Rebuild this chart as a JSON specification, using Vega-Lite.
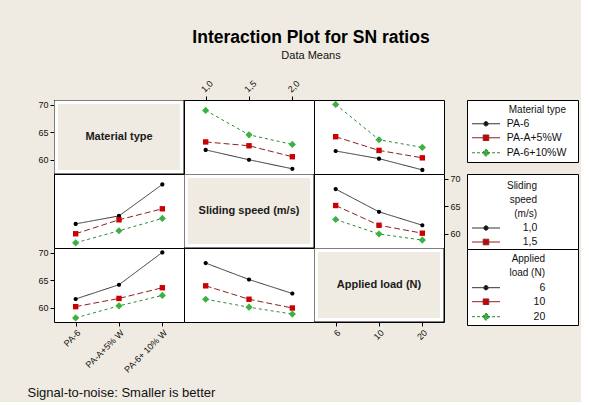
{
 "$schema": "https://vega.github.io/schema/vega-lite/v6.json",
 "usermeta": {"embedOptions": {"actions": false}},
 "background": "#efebe2",
 "padding": {"left": 27, "top": 29, "right": 2, "bottom": 2},
 "datasets": {
  "matSpeed": [
   {"material": "PA-6", "speed": "1,0", "sn": 61.8},
   {"material": "PA-6", "speed": "1,5", "sn": 60.0},
   {"material": "PA-6", "speed": "2,0", "sn": 58.35},
   {"material": "PA-A+5%W", "speed": "1,0", "sn": 63.25},
   {"material": "PA-A+5%W", "speed": "1,5", "sn": 62.55},
   {"material": "PA-A+5%W", "speed": "2,0", "sn": 60.55},
   {"material": "PA-6+10%W", "speed": "1,0", "sn": 69.0},
   {"material": "PA-6+10%W", "speed": "1,5", "sn": 64.55},
   {"material": "PA-6+10%W", "speed": "2,0", "sn": 62.8}
  ],
  "matLoad": [
   {"material": "PA-6", "load": "6", "sn": 61.6},
   {"material": "PA-6", "load": "10", "sn": 60.2},
   {"material": "PA-6", "load": "20", "sn": 58.15},
   {"material": "PA-A+5%W", "load": "6", "sn": 64.2},
   {"material": "PA-A+5%W", "load": "10", "sn": 61.7},
   {"material": "PA-A+5%W", "load": "20", "sn": 60.35},
   {"material": "PA-6+10%W", "load": "6", "sn": 70.1},
   {"material": "PA-6+10%W", "load": "10", "sn": 63.65},
   {"material": "PA-6+10%W", "load": "20", "sn": 62.25}
  ],
  "speedLoad": [
   {"speed": "1,0", "load": "6", "sn": 68.15},
   {"speed": "1,0", "load": "10", "sn": 64.0},
   {"speed": "1,0", "load": "20", "sn": 61.55},
   {"speed": "1,5", "load": "6", "sn": 65.15},
   {"speed": "1,5", "load": "10", "sn": 61.55},
   {"speed": "1,5", "load": "20", "sn": 60.1},
   {"speed": "2,0", "load": "6", "sn": 62.6},
   {"speed": "2,0", "load": "10", "sn": 59.95},
   {"speed": "2,0", "load": "20", "sn": 58.85}
  ]
 },
 "title": {"text": "Signal-to-noise: Smaller is better", "orient": "bottom", "anchor": "start", "frame": "bounds", "fontSize": 13, "fontWeight": "normal", "font": "Liberation Sans", "color": "#111111", "offset": 12, "dx": -10},
 "resolve": {"scale": {"fill": "independent", "stroke": "independent", "strokeDash": "independent", "shape": "independent"}},
 "vconcat": [
  {
   "title": {"text": "Interaction Plot for SN ratios", "subtitle": "Data Means", "anchor": "middle", "frame": "bounds", "fontSize": 17.5, "fontWeight": "bold", "font": "Liberation Sans", "color": "#000000", "subtitleFont": "Liberation Sans", "subtitleFontSize": 11, "subtitleColor": "#111111", "subtitlePadding": 3.5, "offset": 17, "dx": 3},
   "spacing": 5,
   "resolve": {"scale": {"fill": "independent", "stroke": "independent", "strokeDash": "independent", "shape": "independent"}},
   "hconcat": [
    {
     "columns": 3, "spacing": 0, "bounds": "flush", "align": "all",
     "resolve": {"scale": {"fill": "independent", "stroke": "independent", "strokeDash": "independent", "shape": "independent"}},
     "concat": [
      {
       "width": 130, "height": 74,
       "layer": [
        {"data": {"values": [{"label": "Material type"}]}, "mark": {"type": "rect", "fill": "#efebe2", "stroke": "#ffffff", "strokeWidth": 8, "clip": true}, "encoding": {}},
        {"data": {"values": [{"label": "Material type"}]}, "mark": {"type": "rect", "fill": "transparent", "stroke": "#000000", "strokeWidth": 1, "clip": true}, "encoding": {}},
        {"data": {"values": [{"label": "Material type"}]}, "mark": {"type": "text", "fontWeight": "bold", "fontSize": 11, "color": "#1a1a1a"}, "encoding": {"text": {"field": "label"}}},
        {"data": {"name": "matSpeed"}, "mark": {"type": "point", "opacity": 0}, "encoding": {"y": {"field": "sn", "type": "quantitative", "scale": {"domain": [57.4, 70.9], "nice": false, "zero": false}, "title": null, "axis": {"orient": "left", "values": [60, 65, 70]}}}}
       ]
      },
      {
       "width": 130, "height": 74, "data": {"name": "matSpeed"},
       "encoding": {
        "x": {"field": "speed", "type": "ordinal", "sort": ["1,0", "1,5", "2,0"], "scale": {"type": "point", "padding": 0.5}, "title": null, "axis": {"orient": "top", "labelAngle": -45}},
        "y": {"field": "sn", "type": "quantitative", "scale": {"domain": [57.4, 70.9], "nice": false, "zero": false}, "axis": null}
       },
       "layer": [
        {"mark": {"type": "line", "strokeWidth": 1}, "encoding": {
          "stroke": {"field": "material", "type": "nominal", "scale": {"domain": ["PA-6", "PA-A+5%W", "PA-6+10%W"], "range": ["#333333", "#8b2323", "#2e8b2e"]}, "legend": null},
          "strokeDash": {"field": "material", "type": "nominal", "scale": {"domain": ["PA-6", "PA-A+5%W", "PA-6+10%W"], "range": [[1, 0], [6, 3], [3, 3]]}, "legend": null}}},
        {"mark": {"type": "point", "filled": true, "opacity": 1, "size": 36}, "encoding": {
          "fill": {"field": "material", "type": "nominal", "scale": {"domain": ["PA-6", "PA-A+5%W", "PA-6+10%W"], "range": ["#000000", "#cc0000", "#3cb043"]}, "legend": null},
          "shape": {"field": "material", "type": "nominal", "scale": {"domain": ["PA-6", "PA-A+5%W", "PA-6+10%W"], "range": ["M0.7,0A0.7,0.7,0,1,1,-0.7,0A0.7,0.7,0,1,1,0.7,0Z", "M-0.9,-0.9H0.9V0.9H-0.9Z", "M0,-1.2L1.2,0L0,1.2L-1.2,0Z"]}, "legend": null}}}
       ]
      },
      {
       "width": 130, "height": 74, "data": {"name": "matLoad"},
       "encoding": {
        "x": {"field": "load", "type": "ordinal", "sort": ["6", "10", "20"], "scale": {"type": "point", "padding": 0.5}, "axis": null},
        "y": {"field": "sn", "type": "quantitative", "scale": {"domain": [57.4, 70.9], "nice": false, "zero": false}, "axis": null}
       },
       "layer": [
        {"mark": {"type": "line", "strokeWidth": 1}, "encoding": {
          "stroke": {"field": "material", "type": "nominal", "scale": {"domain": ["PA-6", "PA-A+5%W", "PA-6+10%W"], "range": ["#333333", "#8b2323", "#2e8b2e"]}, "legend": null},
          "strokeDash": {"field": "material", "type": "nominal", "scale": {"domain": ["PA-6", "PA-A+5%W", "PA-6+10%W"], "range": [[1, 0], [6, 3], [3, 3]]}, "legend": null}}},
        {"mark": {"type": "point", "filled": true, "opacity": 1, "size": 36}, "encoding": {
          "fill": {"field": "material", "type": "nominal", "scale": {"domain": ["PA-6", "PA-A+5%W", "PA-6+10%W"], "range": ["#000000", "#cc0000", "#3cb043"]}, "legend": null},
          "shape": {"field": "material", "type": "nominal", "scale": {"domain": ["PA-6", "PA-A+5%W", "PA-6+10%W"], "range": ["M0.7,0A0.7,0.7,0,1,1,-0.7,0A0.7,0.7,0,1,1,0.7,0Z", "M-0.9,-0.9H0.9V0.9H-0.9Z", "M0,-1.2L1.2,0L0,1.2L-1.2,0Z"]}, "legend": null}}}
       ]
      },
      {
       "width": 130, "height": 74, "data": {"name": "matSpeed"},
       "encoding": {
        "x": {"field": "material", "type": "ordinal", "sort": ["PA-6", "PA-A+5%W", "PA-6+10%W"], "scale": {"type": "point", "padding": 0.5}, "axis": null},
        "y": {"field": "sn", "type": "quantitative", "scale": {"domain": [57.4, 70.9], "nice": false, "zero": false}, "axis": null}
       },
       "layer": [
        {"mark": {"type": "line", "strokeWidth": 1}, "encoding": {
          "stroke": {"field": "speed", "type": "nominal", "scale": {"domain": ["1,0", "1,5", "2,0"], "range": ["#333333", "#8b2323", "#2e8b2e"]}, "legend": null},
          "strokeDash": {"field": "speed", "type": "nominal", "scale": {"domain": ["1,0", "1,5", "2,0"], "range": [[1, 0], [6, 3], [3, 3]]}, "legend": null}}},
        {"mark": {"type": "point", "filled": true, "opacity": 1, "size": 36}, "encoding": {
          "fill": {"field": "speed", "type": "nominal", "scale": {"domain": ["1,0", "1,5", "2,0"], "range": ["#000000", "#cc0000", "#3cb043"]}, "legend": null},
          "shape": {"field": "speed", "type": "nominal", "scale": {"domain": ["1,0", "1,5", "2,0"], "range": ["M0.7,0A0.7,0.7,0,1,1,-0.7,0A0.7,0.7,0,1,1,0.7,0Z", "M-0.9,-0.9H0.9V0.9H-0.9Z", "M0,-1.2L1.2,0L0,1.2L-1.2,0Z"]}, "legend": null}}}
       ]
      },
      {
       "width": 130, "height": 74,
       "layer": [
        {"data": {"values": [{"label": "Sliding speed (m/s)"}]}, "mark": {"type": "rect", "fill": "#efebe2", "stroke": "#ffffff", "strokeWidth": 8, "clip": true}, "encoding": {}},
        {"data": {"values": [{"label": "Sliding speed (m/s)"}]}, "mark": {"type": "rect", "fill": "transparent", "stroke": "#000000", "strokeWidth": 1, "clip": true}, "encoding": {}},
        {"data": {"values": [{"label": "Sliding speed (m/s)"}]}, "mark": {"type": "text", "fontWeight": "bold", "fontSize": 11, "color": "#1a1a1a"}, "encoding": {"text": {"field": "label"}}}
       ]
      },
      {
       "width": 130, "height": 74, "data": {"name": "speedLoad"},
       "encoding": {
        "x": {"field": "load", "type": "ordinal", "sort": ["6", "10", "20"], "scale": {"type": "point", "padding": 0.5}, "axis": null},
        "y": {"field": "sn", "type": "quantitative", "scale": {"domain": [57.4, 70.9], "nice": false, "zero": false}, "title": null, "axis": {"orient": "right", "values": [60, 65, 70]}}
       },
       "layer": [
        {"mark": {"type": "line", "strokeWidth": 1}, "encoding": {
          "stroke": {"field": "speed", "type": "nominal", "scale": {"domain": ["1,0", "1,5", "2,0"], "range": ["#333333", "#8b2323", "#2e8b2e"]}, "legend": null},
          "strokeDash": {"field": "speed", "type": "nominal", "scale": {"domain": ["1,0", "1,5", "2,0"], "range": [[1, 0], [6, 3], [3, 3]]}, "legend": null}}},
        {"mark": {"type": "point", "filled": true, "opacity": 1, "size": 36}, "encoding": {
          "fill": {"field": "speed", "type": "nominal", "scale": {"domain": ["1,0", "1,5", "2,0"], "range": ["#000000", "#cc0000", "#3cb043"]}, "legend": null},
          "shape": {"field": "speed", "type": "nominal", "scale": {"domain": ["1,0", "1,5", "2,0"], "range": ["M0.7,0A0.7,0.7,0,1,1,-0.7,0A0.7,0.7,0,1,1,0.7,0Z", "M-0.9,-0.9H0.9V0.9H-0.9Z", "M0,-1.2L1.2,0L0,1.2L-1.2,0Z"]}, "legend": null}}}
       ]
      },
      {
       "width": 130, "height": 74, "data": {"name": "matLoad"},
       "encoding": {
        "x": {"field": "material", "type": "ordinal", "sort": ["PA-6", "PA-A+5%W", "PA-6+10%W"], "scale": {"type": "point", "padding": 0.5}, "title": null, "axis": {"orient": "bottom", "labelAngle": -45, "labelExpr": "datum.value == 'PA-A+5%W' ? 'PA-A+5% W' : datum.value == 'PA-6+10%W' ? 'PA-6+ 10% W' : datum.value"}},
        "y": {"field": "sn", "type": "quantitative", "scale": {"domain": [57.4, 70.9], "nice": false, "zero": false}, "title": null, "axis": {"orient": "left", "values": [60, 65, 70]}}
       },
       "layer": [
        {"mark": {"type": "line", "strokeWidth": 1}, "encoding": {
          "stroke": {"field": "load", "type": "nominal", "scale": {"domain": ["6", "10", "20"], "range": ["#333333", "#8b2323", "#2e8b2e"]}, "legend": null},
          "strokeDash": {"field": "load", "type": "nominal", "scale": {"domain": ["6", "10", "20"], "range": [[1, 0], [6, 3], [3, 3]]}, "legend": null}}},
        {"mark": {"type": "point", "filled": true, "opacity": 1, "size": 36}, "encoding": {
          "fill": {"field": "load", "type": "nominal", "scale": {"domain": ["6", "10", "20"], "range": ["#000000", "#cc0000", "#3cb043"]}, "legend": null},
          "shape": {"field": "load", "type": "nominal", "scale": {"domain": ["6", "10", "20"], "range": ["M0.7,0A0.7,0.7,0,1,1,-0.7,0A0.7,0.7,0,1,1,0.7,0Z", "M-0.9,-0.9H0.9V0.9H-0.9Z", "M0,-1.2L1.2,0L0,1.2L-1.2,0Z"]}, "legend": null}}}
       ]
      },
      {
       "width": 130, "height": 74, "data": {"name": "speedLoad"},
       "encoding": {
        "x": {"field": "speed", "type": "ordinal", "sort": ["1,0", "1,5", "2,0"], "scale": {"type": "point", "padding": 0.5}, "axis": null},
        "y": {"field": "sn", "type": "quantitative", "scale": {"domain": [57.4, 70.9], "nice": false, "zero": false}, "axis": null}
       },
       "layer": [
        {"mark": {"type": "line", "strokeWidth": 1}, "encoding": {
          "stroke": {"field": "load", "type": "nominal", "scale": {"domain": ["6", "10", "20"], "range": ["#333333", "#8b2323", "#2e8b2e"]}, "legend": null},
          "strokeDash": {"field": "load", "type": "nominal", "scale": {"domain": ["6", "10", "20"], "range": [[1, 0], [6, 3], [3, 3]]}, "legend": null}}},
        {"mark": {"type": "point", "filled": true, "opacity": 1, "size": 36}, "encoding": {
          "fill": {"field": "load", "type": "nominal", "scale": {"domain": ["6", "10", "20"], "range": ["#000000", "#cc0000", "#3cb043"]}, "legend": null},
          "shape": {"field": "load", "type": "nominal", "scale": {"domain": ["6", "10", "20"], "range": ["M0.7,0A0.7,0.7,0,1,1,-0.7,0A0.7,0.7,0,1,1,0.7,0Z", "M-0.9,-0.9H0.9V0.9H-0.9Z", "M0,-1.2L1.2,0L0,1.2L-1.2,0Z"]}, "legend": null}}}
       ]
      },
      {
       "width": 130, "height": 74,
       "layer": [
        {"data": {"values": [{"label": "Applied load (N)"}]}, "mark": {"type": "rect", "fill": "#efebe2", "stroke": "#ffffff", "strokeWidth": 8, "clip": true}, "encoding": {}},
        {"data": {"values": [{"label": "Applied load (N)"}]}, "mark": {"type": "rect", "fill": "transparent", "stroke": "#000000", "strokeWidth": 1, "clip": true}, "encoding": {}},
        {"data": {"values": [{"label": "Applied load (N)"}]}, "mark": {"type": "text", "fontWeight": "bold", "fontSize": 11, "color": "#1a1a1a"}, "encoding": {"text": {"field": "label"}}},
        {"data": {"name": "matLoad"}, "mark": {"type": "point", "opacity": 0}, "encoding": {
          "x": {"field": "load", "type": "ordinal", "sort": ["6", "10", "20"], "scale": {"type": "point", "padding": 0.5}, "title": null, "axis": {"orient": "bottom", "labelAngle": -45}},
          "y": {"field": "sn", "type": "quantitative", "scale": {"domain": [57.4, 70.9], "nice": false, "zero": false}, "axis": null}}}
       ]
      }
     ]
    },
    {
     "spacing": 0,
     "bounds": "flush",
     "resolve": {"scale": {"fill": "independent", "stroke": "independent", "strokeDash": "independent", "shape": "independent"}},
     "vconcat": [
      {
       "width": 111, "height": 62, "data": {"name": "matSpeed"},
       "mark": {"type": "point", "filled": true, "opacity": 0, "size": 49},
       "encoding": {
        "x": {"field": "speed", "type": "ordinal", "sort": ["1,0", "1,5", "2,0"], "scale": {"type": "point", "padding": 0.5}, "title": null, "axis": {"orient": "top", "labelAngle": -45, "labelColor": "transparent", "tickColor": "transparent"}},
        "fill": {"field": "material", "type": "nominal", "scale": {"domain": ["PA-6", "PA-A+5%W", "PA-6+10%W"], "range": ["#000000", "#cc0000", "#3cb043"]},
         "legend": {"title": "Material type", "orient": "none", "legendX": 0, "legendY": 0, "titlePadding": 3.5, "symbolOpacity": 1}},
        "stroke": {"field": "material", "type": "nominal", "scale": {"domain": ["PA-6", "PA-A+5%W", "PA-6+10%W"], "range": ["#333333", "#8b2323", "#2e8b2e"]},
         "legend": {"title": "Material type", "orient": "none", "legendX": 0, "legendY": 0, "titlePadding": 3.5, "symbolOpacity": 1}},
        "strokeDash": {"field": "material", "type": "nominal", "scale": {"domain": ["PA-6", "PA-A+5%W", "PA-6+10%W"], "range": [[1, 0], [1, 0], [3, 2]]},
         "legend": {"title": "Material type", "orient": "none", "legendX": 0, "legendY": 0, "titlePadding": 3.5, "symbolOpacity": 1}},
        "shape": {"field": "material", "type": "nominal", "scale": {"domain": ["PA-6", "PA-A+5%W", "PA-6+10%W"], "range": ["M-4,0H4M0.63,0A0.63,0.63,0,1,1,-0.63,0A0.63,0.63,0,1,1,0.63,0Z", "M-4,0H4M-0.8,-0.8H0.8V0.8H-0.8Z", "M-4,0H4M0,-1.05L1.05,0L0,1.05L-1.05,0Z"]},
         "legend": {"title": "Material type", "orient": "none", "legendX": 0, "legendY": 0, "titlePadding": 3.5, "symbolOpacity": 1}}
       }
      },
      {
       "width": 111, "height": 12, "view": {"stroke": "transparent", "fill": "transparent"},
       "data": {"values": [{"gap": ""}]},
       "mark": {"type": "point", "opacity": 0},
       "encoding": {}
      },
      {
       "width": 111, "height": 75, "data": {"name": "matSpeed"},
       "mark": {"type": "point", "filled": true, "opacity": 0, "size": 49},
       "encoding": {
        "x": {"field": "material", "type": "ordinal", "scale": {"type": "point", "padding": 0.5}, "axis": null},
        "fill": {"field": "speed", "type": "nominal", "scale": {"domain": ["1,0", "1,5", "2,0"], "range": ["#000000", "#cc0000", "#3cb043"]},
         "legend": {"title": ["Sliding", "speed", "(m/s)"], "values": ["1,0", "1,5"], "orient": "none", "legendX": 0, "legendY": 1.7, "titlePadding": 3.65, "labelAlign": "right", "labelOffset": 46, "symbolOpacity": 1}},
        "stroke": {"field": "speed", "type": "nominal", "scale": {"domain": ["1,0", "1,5", "2,0"], "range": ["#333333", "#8b2323", "#2e8b2e"]},
         "legend": {"title": ["Sliding", "speed", "(m/s)"], "values": ["1,0", "1,5"], "orient": "none", "legendX": 0, "legendY": 1.7, "titlePadding": 3.65, "labelAlign": "right", "labelOffset": 46, "symbolOpacity": 1}},
        "strokeDash": {"field": "speed", "type": "nominal", "scale": {"domain": ["1,0", "1,5", "2,0"], "range": [[1, 0], [1, 0], [3, 2]]},
         "legend": {"title": ["Sliding", "speed", "(m/s)"], "values": ["1,0", "1,5"], "orient": "none", "legendX": 0, "legendY": 1.7, "titlePadding": 3.65, "labelAlign": "right", "labelOffset": 46, "symbolOpacity": 1}},
        "shape": {"field": "speed", "type": "nominal", "scale": {"domain": ["1,0", "1,5", "2,0"], "range": ["M-4,0H4M0.63,0A0.63,0.63,0,1,1,-0.63,0A0.63,0.63,0,1,1,0.63,0Z", "M-4,0H4M-0.8,-0.8H0.8V0.8H-0.8Z", "M-4,0H4M0,-1.05L1.05,0L0,1.05L-1.05,0Z"]},
         "legend": {"title": ["Sliding", "speed", "(m/s)"], "values": ["1,0", "1,5"], "orient": "none", "legendX": 0, "legendY": 1.7, "titlePadding": 3.65, "labelAlign": "right", "labelOffset": 46, "symbolOpacity": 1}}
       }
      },
      {
       "width": 111, "height": 76, "data": {"name": "speedLoad"},
       "mark": {"type": "point", "filled": true, "opacity": 0, "size": 49},
       "encoding": {
        "x": {"field": "speed", "type": "ordinal", "scale": {"type": "point", "padding": 0.5}, "axis": null},
        "fill": {"field": "load", "type": "nominal", "scale": {"domain": ["6", "10", "20"], "range": ["#000000", "#cc0000", "#3cb043"]},
         "legend": {"title": ["Applied", "load (N)"], "orient": "none", "legendX": 0, "legendY": 0, "titlePadding": 4.25, "labelAlign": "right", "labelOffset": 54, "symbolOpacity": 1}},
        "stroke": {"field": "load", "type": "nominal", "scale": {"domain": ["6", "10", "20"], "range": ["#333333", "#8b2323", "#2e8b2e"]},
         "legend": {"title": ["Applied", "load (N)"], "orient": "none", "legendX": 0, "legendY": 0, "titlePadding": 4.25, "labelAlign": "right", "labelOffset": 54, "symbolOpacity": 1}},
        "strokeDash": {"field": "load", "type": "nominal", "scale": {"domain": ["6", "10", "20"], "range": [[1, 0], [1, 0], [3, 2]]},
         "legend": {"title": ["Applied", "load (N)"], "orient": "none", "legendX": 0, "legendY": 0, "titlePadding": 4.25, "labelAlign": "right", "labelOffset": 54, "symbolOpacity": 1}},
        "shape": {"field": "load", "type": "nominal", "scale": {"domain": ["6", "10", "20"], "range": ["M-4,0H4M0.63,0A0.63,0.63,0,1,1,-0.63,0A0.63,0.63,0,1,1,0.63,0Z", "M-4,0H4M-0.8,-0.8H0.8V0.8H-0.8Z", "M-4,0H4M0,-1.05L1.05,0L0,1.05L-1.05,0Z"]},
         "legend": {"title": ["Applied", "load (N)"], "orient": "none", "legendX": 0, "legendY": 0, "titlePadding": 4.25, "labelAlign": "right", "labelOffset": 54, "symbolOpacity": 1}}
       }
      }
     ]
    }
   ]
  }
 ],
 "config": {
  "font": "Liberation Sans",
  "view": {"stroke": "#000000", "strokeWidth": 1, "fill": "#ffffff"},
  "axis": {"domain": false, "grid": false, "ticks": true, "tickSize": 4, "tickColor": "#000000", "tickWidth": 1, "labelFontSize": 9, "labelColor": "#111111", "labelPadding": 2, "labelOverlap": false, "labelFlush": false},
  "legend": {"padding": 5, "symbolSize": 49, "symbolOffset": 8.75, "labelOffset": 15.5, "labelFontSize": 10.5, "labelColor": "#111111", "titleFontSize": 10, "titleFontWeight": "normal", "titleColor": "#111111", "titleAnchor": "end", "titleAlign": "right", "titleLineHeight": 14.2, "rowPadding": 3, "symbolStrokeWidth": 1}
 }
}
